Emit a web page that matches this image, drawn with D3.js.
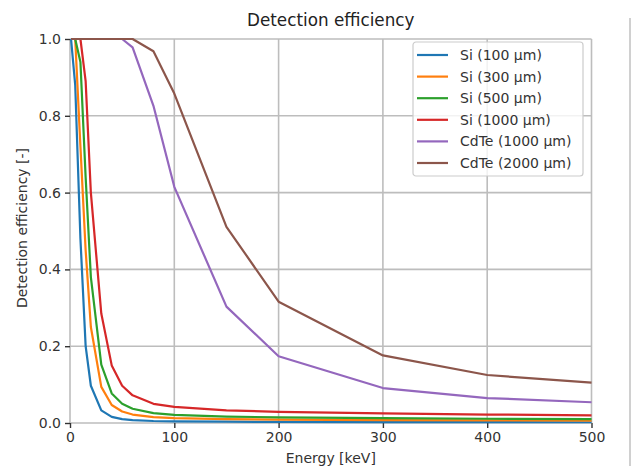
<!DOCTYPE html>
<html>
<head>
<meta charset="utf-8">
<script src="https://cdn.jsdelivr.net/npm/d3@7"></script>
<style>
  html, body { margin: 0; padding: 0; background: #fff; }
  svg { display: block; font-family: "DejaVu Sans", sans-serif; }
</style>
</head>
<body>
<svg id="chart" width="632" height="466"></svg>
<script>
// ---- data ----
const energies = [1, 5, 10, 15, 20, 30, 40, 50, 60, 80, 100, 150, 200, 300, 400, 500];
const si100   = [1.0, 0.88, 0.48, 0.20, 0.097, 0.033, 0.016, 0.010, 0.0075, 0.0052, 0.0043, 0.0034, 0.0030, 0.0025, 0.0022, 0.0020];
const si300   = [1.0, 1.0, 0.72, 0.45, 0.25, 0.094, 0.047, 0.030, 0.022, 0.0155, 0.0127, 0.0101, 0.0089, 0.0075, 0.0067, 0.0061];
const si500   = [1.0, 1.0, 0.94, 0.64, 0.38, 0.152, 0.077, 0.050, 0.037, 0.0256, 0.021, 0.0167, 0.0147, 0.0125, 0.0111, 0.0101];
const si1000  = [1.0, 1.0, 1.0, 0.89, 0.60, 0.285, 0.150, 0.097, 0.072, 0.050, 0.042, 0.033, 0.029, 0.025, 0.022, 0.020];
const cdte1000 = [1.0, 1.0, 1.0, 1.0, 1.0, 1.0, 1.0, 1.0, 0.978, 0.826, 0.615, 0.303, 0.174, 0.091, 0.065, 0.054];
const cdte2000 = [1.0, 1.0, 1.0, 1.0, 1.0, 1.0, 1.0, 1.0, 1.0, 0.968, 0.858, 0.511, 0.316, 0.176, 0.125, 0.105];

const seriesNames = ["Si (100 µm)", "Si (300 µm)", "Si (500 µm)", "Si (1000 µm)", "CdTe (1000 µm)", "CdTe (2000 µm)"];
const seriesValues = [si100, si300, si500, si1000, cdte1000, cdte2000];
const colors = ["#1f77b4", "#ff7f0e", "#2ca02c", "#d62728", "#9467bd", "#8c564b"];
const xTicks = [0, 100, 200, 300, 400, 500];
const yTicks = [0.0, 0.2, 0.4, 0.6, 0.8, 1.0];

const titleText = "Detection efficiency";
const xLabel = "Energy [keV]";
const yLabel = "Detection efficiency [-]";

// ---- layout ----
const W = 632, H = 466;
const margin = { left: 70, right: 40.5, top: 39, bottom: 43 };
const iw = W - margin.left - margin.right;
const ih = H - margin.top - margin.bottom;

const svg = d3.select("#chart");
const g = svg.append("g").attr("transform", `translate(${margin.left},${margin.top})`);

const x = d3.scaleLinear().domain([0, 500]).range([0, iw]);
const y = d3.scaleLinear().domain([0, 1]).range([ih, 0]);

// grid
g.append("g").selectAll("line.vx").data(xTicks).join("line")
  .attr("x1", d => x(d)).attr("x2", d => x(d)).attr("y1", 0).attr("y2", ih)
  .attr("stroke", "#bdbdbd").attr("stroke-width", 1.6);
g.append("g").selectAll("line.hy").data(yTicks).join("line")
  .attr("x1", 0).attr("x2", iw).attr("y1", d => y(d)).attr("y2", d => y(d))
  .attr("stroke", "#bdbdbd").attr("stroke-width", 1.6);

// axes
const xAxis = g.append("g").attr("transform", `translate(0,${ih})`)
  .call(d3.axisBottom(x).tickValues(xTicks).tickFormat(d3.format("d")).tickSize(5).tickPadding(4).tickSizeOuter(0));
const yAxis = g.append("g")
  .call(d3.axisLeft(y).tickValues(yTicks).tickFormat(d3.format(".1f")).tickSize(5).tickPadding(4).tickSizeOuter(0));
[xAxis, yAxis].forEach(a => {
  a.select(".domain").remove();
  a.selectAll(".tick line").attr("stroke", "#333").attr("stroke-width", 1.4);
  a.selectAll(".tick text").attr("fill", "#333").style("font-size", "14px").style("font-family", "DejaVu Sans");
});

// lines
const line = d3.line().x((d, i) => x(energies[i])).y(d => y(d));
g.append("g").selectAll("path.series").data(seriesValues).join("path")
  .attr("fill", "none")
  .attr("stroke", (d, i) => colors[i])
  .attr("stroke-width", 2.2)
  .attr("stroke-linejoin", "round")
  .attr("d", d => line(d));

// title & labels
svg.append("text").attr("x", margin.left + iw / 2).attr("y", 26)
  .attr("text-anchor", "middle").attr("fill", "#222").style("font-size", "16.8px").text(titleText);
svg.append("text").attr("x", margin.left + iw / 2).attr("y", 463)
  .attr("text-anchor", "middle").attr("fill", "#333").style("font-size", "14px").text(xLabel);
svg.append("text").attr("transform", `translate(27,${margin.top + ih / 2 - 3}) rotate(-90)`)
  .attr("text-anchor", "middle").attr("fill", "#333").style("font-size", "14px").text(yLabel);

// legend
const lg = svg.append("g").attr("transform", "translate(413,42)");
lg.append("rect").attr("x", 0).attr("y", 0).attr("width", 170).attr("height", 134)
  .attr("rx", 3).attr("fill", "rgba(255,255,255,0.8)").attr("stroke", "#cccccc").attr("stroke-width", 1.2);
const items = lg.selectAll("g.item").data(seriesNames).join("g")
  .attr("transform", (d, i) => `translate(0,${13 + i * 21.6})`);
items.append("line").attr("x1", 4).attr("x2", 35).attr("y1", 0).attr("y2", 0)
  .attr("stroke", (d, i) => colors[i]).attr("stroke-width", 2.2);
items.append("text").attr("x", 47).attr("y", 5).attr("fill", "#333")
  .style("font-size", "14px").text(d => d);

// right figure border artifact
svg.append("line").attr("x1", 630).attr("x2", 630).attr("y1", 18).attr("y2", H)
  .attr("stroke", "#d0d0d0").attr("stroke-width", 2);
</script>
</body>
</html>
